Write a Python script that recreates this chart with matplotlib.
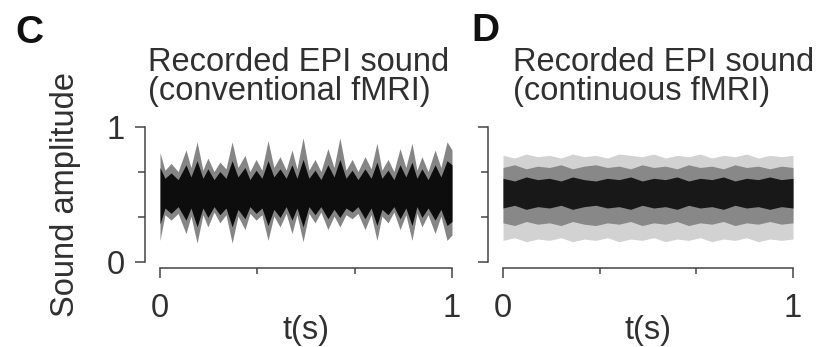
import numpy as np
import matplotlib
matplotlib.use("Agg")
import matplotlib.pyplot as plt
from matplotlib.ticker import FixedLocator, NullFormatter

plt.rcParams['font.family'] = ['Liberation Sans', 'DejaVu Sans']
plt.rcParams['font.size'] = 23.5

# ---- panel C: conventional fMRI, envelope ----
t_c = [0.000, 0.017, 0.038, 0.062, 0.089, 0.106, 0.127, 0.147, 0.164, 0.185,
       0.205, 0.226, 0.247, 0.267, 0.291, 0.308, 0.329, 0.349, 0.370, 0.390,
       0.411, 0.432, 0.452, 0.469, 0.490, 0.510, 0.531, 0.551, 0.575, 0.596,
       0.616, 0.637, 0.658, 0.678, 0.702, 0.723, 0.743, 0.760, 0.781, 0.801,
       0.822, 0.842, 0.863, 0.880, 0.897, 0.918, 0.942, 0.962, 0.983, 1.000]
c_top = [0.81, 0.68, 0.73, 0.67, 0.83, 0.70, 0.89, 0.68, 0.77, 0.67,
         0.74, 0.69, 0.89, 0.70, 0.79, 0.67, 0.76, 0.68, 0.90, 0.70,
         0.78, 0.68, 0.83, 0.69, 0.92, 0.68, 0.76, 0.67, 0.84, 0.70,
         0.92, 0.68, 0.76, 0.67, 0.78, 0.69, 0.88, 0.68, 0.76, 0.67,
         0.84, 0.70, 0.88, 0.68, 0.78, 0.67, 0.83, 0.70, 0.89, 0.83]
c_bot = [0.16, 0.35, 0.31, 0.36, 0.21, 0.34, 0.14, 0.35, 0.26, 0.37,
         0.29, 0.35, 0.14, 0.34, 0.24, 0.36, 0.31, 0.35, 0.16, 0.34,
         0.26, 0.36, 0.21, 0.35, 0.15, 0.36, 0.29, 0.37, 0.24, 0.34,
         0.26, 0.35, 0.32, 0.36, 0.24, 0.35, 0.16, 0.34, 0.29, 0.37,
         0.24, 0.35, 0.16, 0.36, 0.26, 0.35, 0.21, 0.34, 0.16, 0.20]
c_core_top = [0.70, 0.62, 0.66, 0.61, 0.72, 0.63, 0.75, 0.62, 0.69, 0.61,
              0.67, 0.62, 0.75, 0.63, 0.70, 0.61, 0.68, 0.62, 0.75, 0.63,
              0.69, 0.62, 0.72, 0.62, 0.76, 0.62, 0.68, 0.61, 0.72, 0.63,
              0.76, 0.62, 0.68, 0.61, 0.69, 0.62, 0.74, 0.62, 0.68, 0.61,
              0.72, 0.63, 0.74, 0.62, 0.69, 0.61, 0.72, 0.63, 0.75, 0.72]
c_core_bot = [0.28, 0.40, 0.36, 0.41, 0.31, 0.40, 0.26, 0.40, 0.33, 0.41,
              0.35, 0.40, 0.26, 0.39, 0.32, 0.41, 0.36, 0.40, 0.27, 0.39,
              0.33, 0.41, 0.31, 0.40, 0.26, 0.41, 0.35, 0.41, 0.32, 0.39,
              0.33, 0.40, 0.37, 0.41, 0.32, 0.40, 0.27, 0.39, 0.35, 0.41,
              0.32, 0.40, 0.27, 0.41, 0.33, 0.40, 0.31, 0.39, 0.27, 0.30]

# ---- panel D: continuous fMRI ----
t_d = [0.00, 0.04, 0.08, 0.12, 0.16, 0.20, 0.24, 0.28, 0.32, 0.36, 0.40, 0.44, 0.48,
       0.52, 0.56, 0.60, 0.64, 0.68, 0.72, 0.76, 0.80, 0.84, 0.88, 0.92, 0.96, 1.00]
d_top = [0.79, 0.77, 0.80, 0.78, 0.79, 0.77, 0.80, 0.78, 0.79, 0.77, 0.80, 0.79, 0.78,
         0.80, 0.77, 0.79, 0.78, 0.80, 0.77, 0.79, 0.78, 0.80, 0.77, 0.79, 0.78, 0.79]
d_bot = [0.16, 0.18, 0.15, 0.17, 0.16, 0.18, 0.15, 0.17, 0.16, 0.18, 0.15, 0.17, 0.16,
         0.18, 0.15, 0.17, 0.16, 0.18, 0.15, 0.17, 0.16, 0.18, 0.15, 0.17, 0.16, 0.17]
d_mid_top = [0.70, 0.72, 0.69, 0.71, 0.70, 0.72, 0.69, 0.71, 0.72, 0.70, 0.71, 0.69, 0.72,
             0.70, 0.71, 0.69, 0.72, 0.70, 0.71, 0.69, 0.72, 0.70, 0.71, 0.69, 0.71, 0.70]
d_mid_bot = [0.29, 0.27, 0.30, 0.28, 0.29, 0.27, 0.30, 0.28, 0.27, 0.29, 0.28, 0.30, 0.27,
             0.29, 0.28, 0.30, 0.27, 0.29, 0.28, 0.30, 0.27, 0.29, 0.28, 0.30, 0.28, 0.29]
d_core_top = [0.62, 0.60, 0.63, 0.61, 0.62, 0.60, 0.63, 0.61, 0.60, 0.62, 0.61, 0.63, 0.60,
              0.62, 0.61, 0.63, 0.60, 0.62, 0.61, 0.63, 0.60, 0.62, 0.61, 0.63, 0.61, 0.62]
d_core_bot = [0.40, 0.42, 0.39, 0.41, 0.40, 0.42, 0.39, 0.41, 0.42, 0.40, 0.41, 0.39, 0.42,
              0.40, 0.41, 0.39, 0.42, 0.40, 0.41, 0.39, 0.42, 0.40, 0.41, 0.39, 0.41, 0.40]

titles = [("Recorded EPI sound", "(conventional fMRI)"),
          ("Recorded EPI sound", "(continuous fMRI)")]
letters = ["C", "D"]

TXT = '#303030'
AX = '#444444'


def style_axis(ax, show_ylabels):
    ax.set_xlim(0, 1)
    ax.set_ylim(0, 1)
    for s in ['top', 'right']:
        ax.spines[s].set_visible(False)
    ax.spines['left'].set_position(('outward', 11))
    ax.spines['bottom'].set_position(('outward', 4.5))
    for s in ['left', 'bottom']:
        ax.spines[s].set_linewidth(1.1)
        ax.spines[s].set_color(AX)
    ax.xaxis.set_major_locator(FixedLocator([0, 1]))
    ax.xaxis.set_minor_locator(FixedLocator([1 / 3, 2 / 3]))
    ax.yaxis.set_major_locator(FixedLocator([0, 1]))
    ax.yaxis.set_minor_locator(FixedLocator([1 / 3, 2 / 3]))
    ax.xaxis.set_minor_formatter(NullFormatter())
    ax.yaxis.set_minor_formatter(NullFormatter())
    ax.tick_params(which='major', length=7.5, width=1.1, color=AX, labelcolor=TXT)
    ax.tick_params(which='minor', length=5, width=1.1, color=AX)
    ax.tick_params(axis='x', which='minor', length=4)
    ax.tick_params(axis='x', which='major', pad=10)
    ax.tick_params(axis='y', which='major', pad=7)
    ax.set_xticklabels(['0', '1'])
    if show_ylabels:
        ax.set_yticklabels(['0', '1'])
    else:
        ax.set_yticklabels([])
    ax.set_xlabel('t(s)', color=TXT)
    ax.xaxis.set_label_coords(0.5, -0.39)


fig = plt.figure(figsize=(8.19, 3.47), dpi=100)
ax_c = fig.add_axes([0.19536, 0.245, 0.35653, 0.389])
ax_d = fig.add_axes([0.61416, 0.245, 0.35409, 0.389])

# waveform of C: grey spikes with a black core
ax_c.fill_between(t_c, c_bot, c_top, color='#858585', lw=0)
ax_c.fill_between(t_c, c_core_bot, c_core_top, color='#0d0d0d', lw=0)

# waveform of D: even band, light edges, dark centre
ax_d.fill_between(t_d, d_bot, d_top, color='#d2d2d2', lw=0)
ax_d.fill_between(t_d, d_mid_bot, d_mid_top, color='#888888', lw=0)
ax_d.fill_between(t_d, d_core_bot, d_core_top, color='#181818', lw=0)

style_axis(ax_c, True)
style_axis(ax_d, False)
ax_c.set_ylabel('Sound amplitude', color=TXT)
ax_c.yaxis.set_label_coords(-0.27, 0.5)

# titles and panel letters
for (l1, l2), x0 in zip(titles, [148, 513]):
    fig.text(x0 / 819, 1 - 71 / 347, l1, color=TXT, va='baseline', ha='left')
    fig.text(x0 / 819, 1 - 100 / 347, l2, color=TXT, va='baseline', ha='left')
for letter, (x, y) in zip(letters, [(29, 33), (485, 31)]):
    fig.text(x / 819, 1 - y / 347, letter, weight='bold', size=28,
             ha='center', va='center', color='#111111')

fig.savefig('out.png', dpi=100)
